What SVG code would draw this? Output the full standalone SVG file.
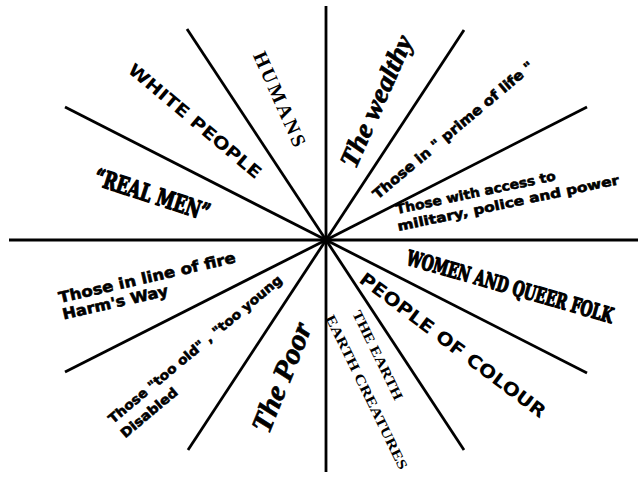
<svg xmlns="http://www.w3.org/2000/svg" width="638" height="477" viewBox="0 0 638 477">
<style>
.ln{stroke:#000;stroke-width:2.8;stroke-linecap:butt;fill:none}
text{fill:#000}
.geo{font-family:"DejaVu Sans","Liberation Sans",sans-serif;font-weight:bold}
.rnd{font-family:"DejaVu Sans","Liberation Sans",sans-serif;font-weight:bold;stroke:#000;stroke-width:0.6}
.wst{font-family:"DejaVu Serif","Liberation Serif",serif;font-weight:bold;font-stretch:condensed;stroke:#000;stroke-width:1.3;stroke-linejoin:round}
.srf{font-family:"Liberation Serif","DejaVu Serif",serif;font-weight:bold}
.scr{font-family:"Liberation Serif","DejaVu Serif",serif;font-weight:bold;font-style:italic;stroke:#000;stroke-width:0.7}
</style>
<rect width="638" height="477" fill="#fff"/>
<g id="connectors">
<line class="ln" x1="326" y1="6" x2="326" y2="472"/>
<line class="ln" x1="9" y1="240" x2="638" y2="240"/>
<line class="ln" x1="187" y1="29" x2="326" y2="240"/>
<line class="ln" x1="65" y1="107" x2="326" y2="240"/>
<line class="ln" x1="464" y1="30" x2="326" y2="240"/>
<line class="ln" x1="587" y1="107" x2="326" y2="240"/>
<line class="ln" x1="65" y1="372" x2="326" y2="240"/>
<line class="ln" x1="188" y1="450" x2="326" y2="240"/>
<line class="ln" x1="587" y1="373" x2="326" y2="240"/>
<line class="ln" x1="464" y1="450" x2="326" y2="240"/>
</g>
<g id="white-people" transform="translate(195,121) rotate(40)"><text class="geo" font-size="17" text-anchor="middle" y="6" textLength="168" lengthAdjust="spacingAndGlyphs">WHITE PEOPLE</text></g>
<g id="humans" transform="translate(280,99) rotate(66)"><text class="srf" font-size="20" text-anchor="middle" y="7" textLength="102" lengthAdjust="spacing">HUMANS</text></g>
<g id="real-men" transform="translate(152,195) rotate(18)"><text class="wst" font-size="24" text-anchor="middle" y="8" textLength="120" lengthAdjust="spacingAndGlyphs">“REAL MEN”</text></g>
<g id="the-wealthy" transform="translate(378,102) rotate(-66)"><text class="scr" font-size="27" text-anchor="middle" y="7" textLength="142" lengthAdjust="spacingAndGlyphs">The wealthy</text></g>
<g id="prime-of-life" transform="translate(453,130) rotate(-40)"><text class="rnd" font-size="14" text-anchor="middle" y="5" textLength="205" lengthAdjust="spacingAndGlyphs">Those in " prime of life "</text></g>
<g id="military-police-power" transform="translate(397,214) rotate(-12)"><text class="rnd" font-size="13" textLength="163" lengthAdjust="spacingAndGlyphs">Those with access to</text><text class="rnd" font-size="13" x="-2" y="17" textLength="226" lengthAdjust="spacingAndGlyphs">military, police and power</text></g>
<g id="line-of-fire" transform="translate(60,303) rotate(-13)"><text class="rnd" font-size="15" textLength="181" lengthAdjust="spacingAndGlyphs">Those in line of fire</text><text class="rnd" font-size="15" y="17" textLength="108" lengthAdjust="spacingAndGlyphs">Harm's Way</text></g>
<g id="too-old-young" transform="translate(113,424) rotate(-40)"><text class="rnd" font-size="13" textLength="222" lengthAdjust="spacingAndGlyphs">Those "too old" , "too young</text><text class="rnd" font-size="13" y="19" textLength="70" lengthAdjust="spacingAndGlyphs">Disabled</text></g>
<g id="the-poor" transform="translate(283,378) rotate(-68)"><text class="scr" font-size="29" text-anchor="middle" y="8" textLength="116" lengthAdjust="spacingAndGlyphs">The Poor</text></g>
<g id="women-queer" transform="translate(510,287) rotate(16)"><text class="wst" font-size="21" text-anchor="middle" y="7" textLength="214" lengthAdjust="spacingAndGlyphs">WOMEN AND QUEER FOLK</text></g>
<g id="people-of-colour" transform="translate(453,345) rotate(37)"><text class="geo" font-size="18" text-anchor="middle" y="6.5" textLength="228" lengthAdjust="spacingAndGlyphs">PEOPLE OF COLOUR</text></g>
<g id="the-earth" transform="translate(378,355) rotate(64)"><text class="srf" font-size="14" text-anchor="middle" y="5" textLength="98" lengthAdjust="spacingAndGlyphs">THE EARTH</text></g>
<g id="earth-creatures" transform="translate(367,392) rotate(64)"><text class="srf" font-size="14" text-anchor="middle" y="5" textLength="170" lengthAdjust="spacingAndGlyphs">EARTH CREATURES</text></g>
</svg>
